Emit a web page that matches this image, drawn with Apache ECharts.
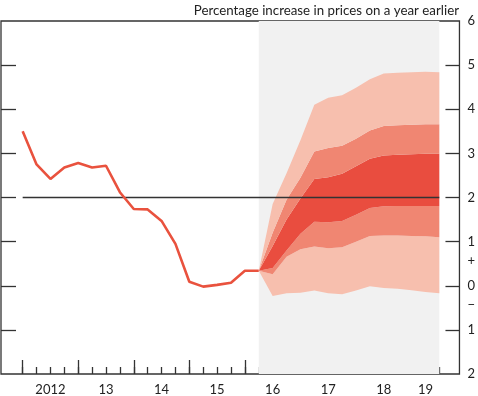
<!DOCTYPE html>
<html>
<head>
<meta charset="UTF-8">
<title>CPI fan chart</title>
<script src="https://cdn.jsdelivr.net/npm/echarts@6/dist/echarts.min.js"></script>
<style>
    html, body { margin: 0; padding: 0; background: #fff; }
    #chart { width: 478px; height: 396px; }
</style>
</head>
<body>
<div id="chart"></div>
<script>
    // x = quarter index, 0 = 2012 Q1
    const yearLabels = ['2012', '13', '14', '15', '16', '17', '18', '19'];
    const yearLabelAt = [2, 6, 10, 14, 18, 22, 26, 29];
    const yearTicks = [0, 4, 8, 12, 16, 20, 24, 28];
    const quarterTicks = [0,1,2,3,4,5,6,7,8,9,10,11,12,13,14,15,16,17,18,19,20,21,22,23,24,25,26,27,28,29,30];
    const yTicks = [-1, 0, 1, 2, 3, 4, 5];
    const yLabels = [-2, -1, 0, 1, 2, 3, 4, 5, 6];
    const plusAt = 0.57, minusAt = -0.44;

    // CPI inflation, 2012 Q1 onwards
    const cpi = [3.5, 2.75, 2.42, 2.68, 2.78, 2.68, 2.72, 2.12, 1.74, 1.73, 1.47, 0.95,
                 0.09, -0.02, 0.02, 0.07, 0.34, 0.34];

    // projection fan, quarters 17..30
    const fanStart = 17;
    const band90Lo = [0.34, -0.23, -0.17, -0.16, -0.11, -0.17, -0.19, -0.11, -0.01, -0.05, -0.07, -0.10, -0.14, -0.17];
    const band60Lo = [0.34, 0.26, 0.66, 0.83, 0.89, 0.85, 0.87, 1.00, 1.13, 1.14, 1.14, 1.13, 1.12, 1.10];
    const band30Lo = [0.34, 0.40, 0.80, 1.18, 1.45, 1.44, 1.47, 1.61, 1.76, 1.80, 1.81, 1.81, 1.81, 1.81];
    const band30Hi = [0.34, 0.90, 1.50, 1.98, 2.42, 2.46, 2.54, 2.71, 2.88, 2.95, 2.97, 2.98, 2.99, 2.99];
    const band60Hi = [0.34, 1.20, 1.95, 2.45, 3.04, 3.12, 3.17, 3.33, 3.52, 3.62, 3.64, 3.65, 3.66, 3.66];
    const band90Hi = [0.34, 1.85, 2.55, 3.30, 4.10, 4.26, 4.32, 4.49, 4.68, 4.81, 4.83, 4.84, 4.85, 4.84];

    const target = 2;

    const FONT = 'Lato';
    const TXT = '#222';
    const AXIS = '#333';
    const GREY = '#f1f1f1', LIGHT = '#f7bfae', MID = '#f08672', DARK = '#e94d3f';

    function pts(arr, start) {
        return arr.map((v, i) => [start + i, v]);
    }

    // stacked band: rows are [height, x] so the stack runs along y
    function band(name, hi, lo, color) {
        const rows = hi.map((v, i) => [lo ? +(v - lo[i]).toFixed(3) : v, fanStart + i]);
        return {
            name: name, type: 'line', data: rows, encode: {x: 1, y: 0},
            stack: 'fan', stackStrategy: 'all',
            symbol: 'none', silent: true, z: 2,
            lineStyle: {width: 0},
            areaStyle: color ? {color: color, opacity: 1} : null
        };
    }

    const tickStyle = {color: AXIS, width: 1.3};
    const chart = echarts.init(document.getElementById('chart'));
    chart.setOption({
        animation: false,
        title: {
            text: 'Percentage increase in prices on a year earlier',
            right: 14, top: -1,
            textStyle: {fontFamily: FONT, fontSize: 13.3, fontWeight: 'normal', color: TXT}
        },
        grid: {left: 1, right: 16, top: 21, bottom: 22, show: true, borderColor: AXIS, borderWidth: 1.3},
        xAxis: [{
            type: 'value', min: -1.56, max: 31.45,
            splitLine: {show: false},
            axisLine: {show: false, onZero: false},
            axisTick: {show: true, inside: true, length: 14, customValues: yearTicks, lineStyle: tickStyle},
            axisLabel: {
                customValues: yearLabelAt, margin: 9,
                formatter: v => yearLabels[yearLabelAt.indexOf(v)],
                fontFamily: FONT, fontSize: 13, color: TXT
            }
        }, {
            type: 'value', min: -1.56, max: 31.45, position: 'bottom',
            splitLine: {show: false}, axisLine: {show: false, onZero: false}, axisLabel: {show: false},
            axisTick: {show: true, inside: true, length: 7, customValues: quarterTicks, lineStyle: tickStyle}
        }],
        yAxis: [{
            type: 'value', position: 'right', min: -2, max: 6, interval: 1,
            splitLine: {show: false}, axisLine: {show: false, onZero: false},
            axisTick: {show: true, inside: true, length: 14, customValues: yTicks, lineStyle: tickStyle},
            axisLabel: {
                customValues: yLabels.concat([plusAt, minusAt]), margin: 8,
                formatter: v => v === plusAt ? '+' : (v === minusAt ? '\u2212' : String(Math.abs(v))),
                fontFamily: FONT, fontSize: 13, color: TXT
            }
        }, {
            type: 'value', position: 'left', min: -2, max: 6, interval: 1,
            splitLine: {show: false}, axisLine: {show: false, onZero: false}, axisLabel: {show: false},
            axisTick: {show: true, inside: true, length: 15, customValues: yTicks, lineStyle: tickStyle}
        }],
        series: [
            {
                name: 'projection', type: 'line', data: [], silent: true,
                markArea: {
                    silent: true, itemStyle: {color: GREY},
                    data: [[{xAxis: fanStart}, {xAxis: fanStart + band90Lo.length - 1}]]
                }
            },
            band('base', band90Lo, null, null),
            band('90 lower', band60Lo, band90Lo, LIGHT),
            band('60 lower', band30Lo, band60Lo, MID),
            band('central', band30Hi, band30Lo, DARK),
            band('60 upper', band60Hi, band30Hi, MID),
            band('90 upper', band90Hi, band60Hi, LIGHT),
            {
                name: 'target', type: 'line', data: [[0, target], [30, target]],
                symbol: 'none', silent: true, z: 4,
                lineStyle: {color: AXIS, width: 1.6}
            },
            {
                name: 'CPI', type: 'line', data: pts(cpi, 0),
                symbol: 'none', silent: true, z: 5,
                lineStyle: {color: '#e9523e', width: 2.6}
            }
        ]
    });
</script>
</body>
</html>
